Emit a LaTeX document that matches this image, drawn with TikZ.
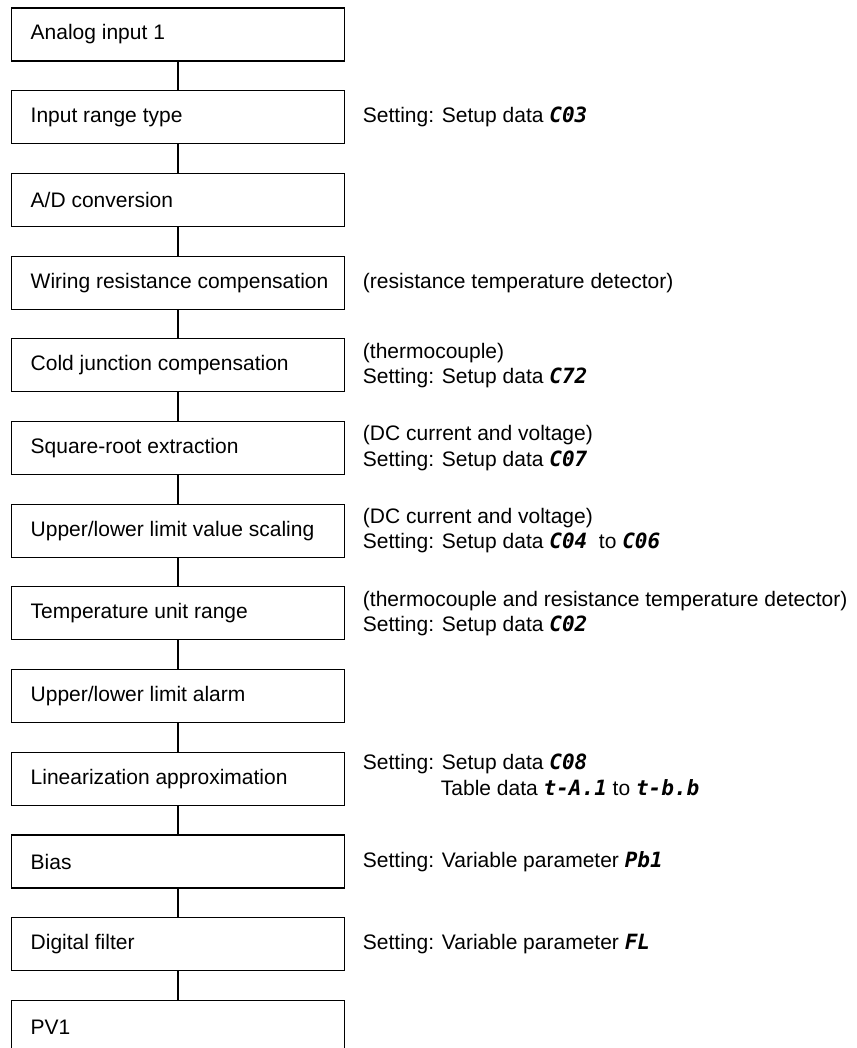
\documentclass[tikz,border=0pt]{standalone}
\usepackage{fontspec}
\setmainfont{Liberation Sans}
\newfontfamily\segfont{DejaVu Sans Mono}
\newcommand{\segcode}[1]{{\segfont\bfseries\itshape #1}}
\usetikzlibrary{positioning}

\begin{document}
\begin{tikzpicture}[x=0.5pt, y=-0.5pt, font=\fontsize{10.5}{12.6}\selectfont,
  blk/.style={draw, line width=0.55pt, minimum width=166.3pt, minimum height=26.5pt,
    inner xsep=9.5pt},
  note/.style={align=left, inner sep=0pt}]
  \useasboundingbox (0,0) rectangle (856,1048);
  \foreach \i/\txt in {0/Analog input 1, 1/Input range type, 2/{A/D conversion},
    3/Wiring resistance compensation, 4/Cold junction compensation,
    5/Square-root extraction, 6/{Upper/lower limit value scaling},
    7/Temperature unit range, 8/{Upper/lower limit alarm},
    9/Linearization approximation, 10/Bias, 11/Digital filter, 12/PV1}
    \node[blk] (b\i) at (178, 34.5+82.7*\i) {\makebox[147.3pt][l]{\txt}};
  \foreach \i [evaluate=\i as \j using int(\i+1)] in {0,...,11}
    \draw[line width=0.55pt] (b\i.south) -- (b\j.north);
  % settings beside the boxes
  \node[note, right=8.85pt of b1] (n1) {Setting: Setup data \segcode{C03}};
  \node[note, right=8.85pt of b3] (n3) {(resistance temperature detector)};
  \node[note, right=8.85pt of b4] (n4) {(thermocouple)\\Setting: Setup data \segcode{C72}};
  \node[note, right=8.85pt of b5] (n5) {(DC current and voltage)\\Setting: Setup data \segcode{C07}};
  \node[note, right=8.85pt of b6] (n6) {(DC current and voltage)\\Setting: Setup data \segcode{C04}\ \ to \segcode{C06}};
  \node[note, right=8.85pt of b7] (n7) {(thermocouple and resistance temperature detector)\\Setting: Setup data \segcode{C02}};
  \node[note, right=8.85pt of b9, yshift=2pt] (n9) {Setting: Setup data \segcode{C08}\\\hspace*{39pt}Table data \segcode{t-A.1} to \segcode{t-b.b}};
  \node[note, right=8.85pt of b10] (n10) {Setting: Variable parameter \segcode{Pb1}};
  \node[note, right=8.85pt of b11] (n11) {Setting: Variable parameter \segcode{FL}};
\end{tikzpicture}
\end{document}
